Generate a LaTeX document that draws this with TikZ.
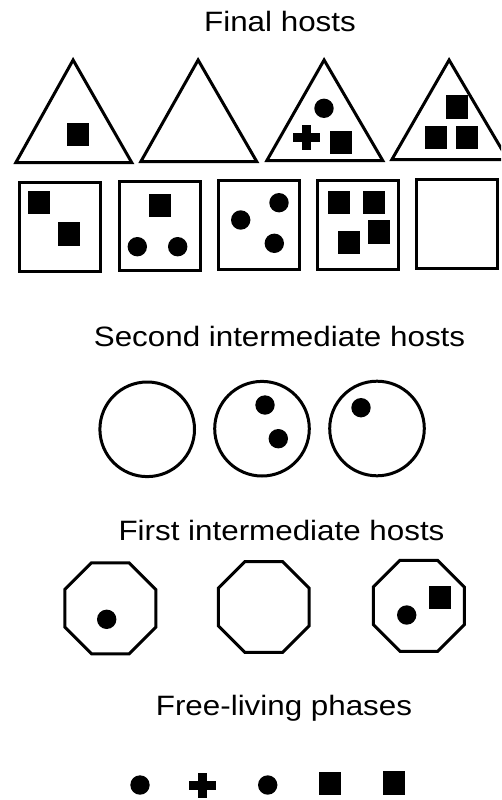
\documentclass[tikz,border=0pt]{standalone}
\usepackage{fontspec}
\setmainfont{Liberation Sans}
\usepackage{tikz}

\begin{document}
\begin{tikzpicture}[x=1pt, y=-1pt,
    host/.style={line width=3pt, line join=miter},
    worm/.style={fill=black},
    title/.style={anchor=base, inner sep=0pt, xscale=1.12, font=\fontsize{28}{34}\selectfont}]
    \useasboundingbox (0,0) rectangle (501,800);
    \clip (0,0) rectangle (501,800);

    % row labels
    \node[title] (final) at (280,32) {Final hosts};
    \node[title] (second) at (279.5,346) {Second intermediate hosts};
    \node[title] (first) at (281.5,540) {First intermediate hosts};
    \node[title] (free) at (284,715) {Free-living phases};

    % final hosts: triangles and boxes
    \foreach \l/\b in {13.3/164, 138.3/163, 264.3/162, 389.3/161}
        \draw[host] (\l+2.6,\b-1.5) -- (\l+59.8,60) -- (\l+118.4,\b-1.5) -- cycle;
    \foreach \l/\t in {18.3/180.7, 117.7/179.7, 216.7/179, 316/178.7, 415/178}
        \draw[host] (\l+1.5,\t+1.5) rectangle ++(81,89);

    % second intermediate hosts
    \foreach \cx/\cy in {147.2/429.3, 262/428.7, 377/428.5}
        \draw[host] (\cx,\cy) circle[radius=47.3];

    % first intermediate hosts
    \foreach \cx/\cy in {110.3/608.3, 263.7/607, 418.8/605.8}
        \draw[host] ([shift={(22.5:49.2)}]\cx,\cy)
            \foreach \a in {67.5,112.5,...,337.5} { -- ([shift={(\a:49.2)}]\cx,\cy) } -- cycle;

    % parasites: round ones
    \foreach \x/\y in {324/108.3, 137.3/246.7, 177.7/246.7, 240.7/220, 279/202.7, 274.3/243.3,
                       265/405, 278.3/438.7, 361/407.7, 106.7/619.3, 406.7/615,
                       140/785, 267.7/785}
        \fill[worm] (\x,\y) circle[radius=9.7];
    % square ones
    \foreach \x/\y in {78/134.3, 340.8/142.5, 457.2/107, 435.5/137.7, 467.2/137.2,
                       39.2/202.3, 69.2/234, 159.8/205.3,
                       338.5/202.7, 374.2/202.7, 378.5/232, 348.5/242.7,
                       440/597.5, 330.3/783.3, 393.8/783}
        \fill[worm] (\x-11,\y-11.6) rectangle ++(22,23.2);
    % crosses
    \foreach \x/\y in {306.7/137.7, 202.7/785} {
        \fill[worm] (\x-13.3,\y-4.5) rectangle ++(26.6,9);
        \fill[worm] (\x-4.5,\y-12.5) rectangle ++(9,25);
    }
\end{tikzpicture}
\end{document}
